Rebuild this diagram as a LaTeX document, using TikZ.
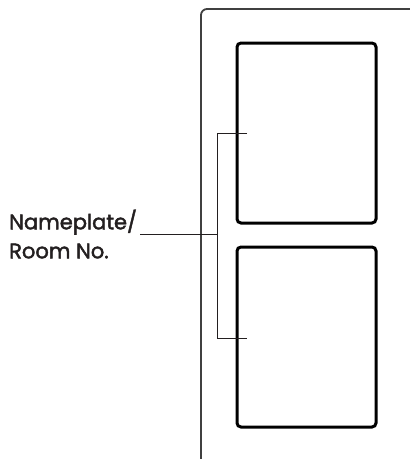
\documentclass[tikz,border=0pt]{standalone}
\usepackage{fontspec}
\newfontfamily\labelfont{Poppins}[FakeBold=2]
\usetikzlibrary{positioning}
\definecolor{ink}{HTML}{231F20}

\begin{document}
\begin{tikzpicture}[x=1pt, y=-1pt]
    \useasboundingbox (0, 0) rectangle (410, 459);

    \draw[line width=1.8pt, black!75, rounded corners=6pt] (201, 459) -- (201, 9) -- (410, 9);

    \draw[line width=3pt, rounded corners=4pt] (237, 43) rectangle (376, 223);
    \draw[line width=3pt, rounded corners=4pt] (237, 247) rectangle (376, 427);

    \draw[line width=0.9pt, ink] (247, 133) -- (217, 133) -- (217, 338) -- (247, 338);
    \coordinate (tip) at (217, 234);

    \node[anchor=west, inner sep=0, align=left, text=ink, font=\fontsize{21}{29}\labelfont] (label) at (9, 234) {Nameplate/\\Room No.};
    \draw[line width=0.9pt, ink] ([xshift=3pt]label.east) -- (tip);
  \end{tikzpicture}
\end{document}
